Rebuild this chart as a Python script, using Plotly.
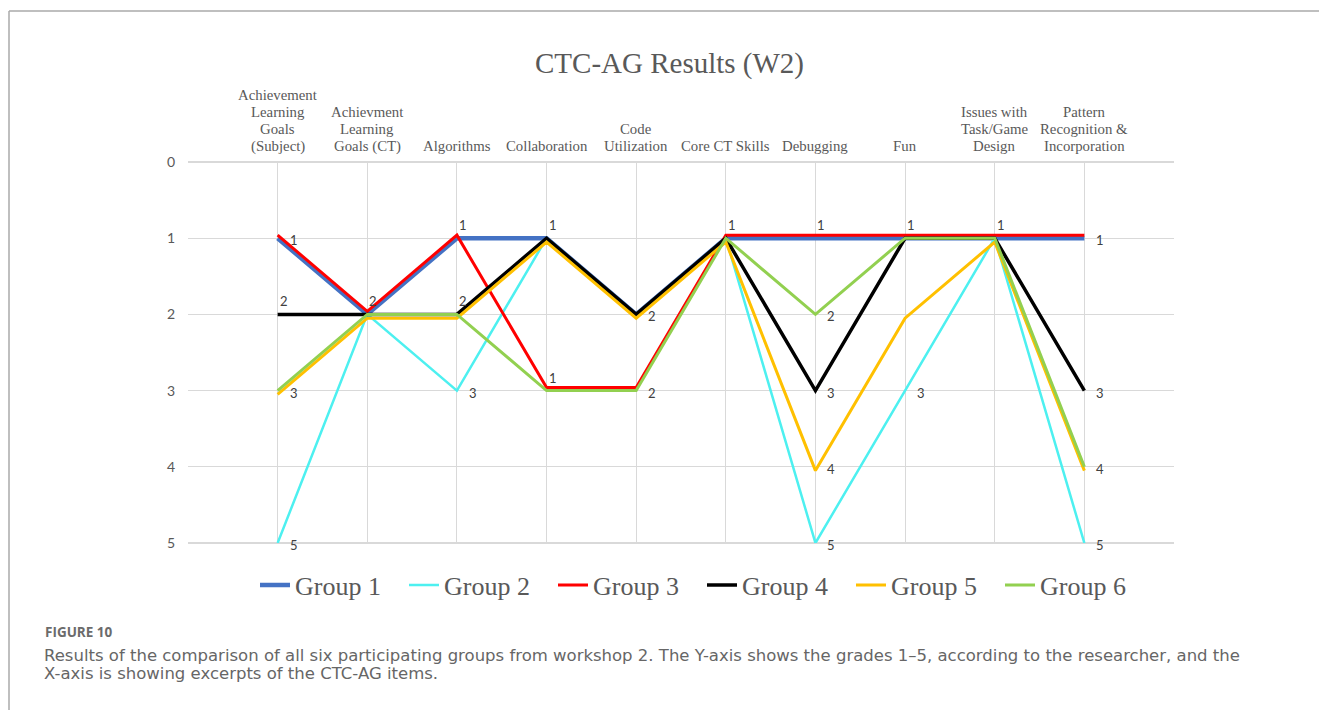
import plotly.graph_objects as go

categories = [
    "Achievement<br>Learning<br>Goals<br>(Subject)",
    "Achievment<br>Learning<br>Goals (CT)",
    "Algorithms",
    "Collaboration",
    "Code<br>Utilization",
    "Core CT Skills",
    "Debugging",
    "Fun",
    "Issues with<br>Task/Game<br>Design",
    "Pattern<br>Recognition &<br>Incorporation",
]

group1 = [1, 2, 1, 1, 2, 1, 1, 1, 1, 1]
group2 = [5, 2, 3, 1, 2, 1, 5, 3, 1, 5]
group3 = [0.96, 1.96, 0.96, 2.96, 2.96, 0.96, 0.96, 0.96, 0.96, 0.96]
group4 = [2, 2, 2, 1, 2, 1, 3, 1, 1, 3]
group5 = [3.05, 2.05, 2.05, 1.05, 2.05, 1.05, 4.05, 2.05, 1.05, 4.05]
group6 = [3, 2, 2, 3, 3, 1, 2, 1, 1, 4]

series_names = ["Group 1", "Group 2", "Group 3", "Group 4", "Group 5", "Group 6"]
series_values = [group1, group2, group3, group4, group5, group6]
series_colors = ["#4472C4", "#4DF0F0", "#FF0000", "#000000", "#FFC000", "#92D050"]
series_widths = [4.5, 2.5, 3, 3.5, 3, 3]

y_ticks = [0, 1, 2, 3, 4, 5]

# data labels (category index, value, label text, placement)
label_cat = [0, 0, 0, 0, 1, 2, 2, 2, 3, 3, 4, 4, 5, 6, 6, 6, 6, 6, 7, 7, 8, 9, 9, 9, 9]
label_val = [1, 2, 3, 5, 2, 1, 2, 3, 1, 3, 2, 3, 1, 1, 2, 3, 4, 5, 1, 3, 1, 1, 3, 4, 5]
label_text = ["1", "2", "3", "5", "2", "1", "2", "3", "1", "1", "2", "2", "1",
              "1", "2", "3", "4", "5", "1", "3", "1", "1", "3", "4", "5"]
label_pos = ["r", "a", "r", "r", "a", "a", "a", "r", "a", "a", "r", "r", "a",
             "a", "r", "r", "r", "r", "a", "r", "a", "r", "r", "r", "r"]

caption_head = "FIGURE 10"
caption_lines = [
    "Results of the comparison of all six participating groups from workshop 2. The Y-axis shows the grades 1\u20135, according to the researcher, and the",
    "X-axis is showing excerpts of the CTC-AG items.",
]
chart_title = "CTC-AG Results (W2)"

x_idx = list(range(len(categories)))

W, H = 1319, 710
pl, pr, pt, pb = 188, 145, 162, 167
pw, ph = W - pl - pr, H - pt - pb


def px_x(x):
    return (x - pl) / pw


def px_y(y):
    return (H - pb - y) / ph


SERIF = "Liberation Serif, Times New Roman, serif"
SANS = "Lato, Liberation Sans, sans-serif"

fig = go.Figure()
for name, vals, col, w in zip(series_names, series_values, series_colors, series_widths):
    fig.add_trace(go.Scatter(
        x=x_idx, y=vals, mode="lines", name=name,
        line=dict(color=col, width=w),
    ))

# data labels
for c, v, t, p in zip(label_cat, label_val, label_text, label_pos):
    if p == "r":
        xs, ys = 16, -2
    else:
        xs, ys = 6, 13
    fig.add_annotation(x=c, y=v, text=t, showarrow=False, xref="x", yref="y",
                       xshift=xs, yshift=ys,
                       font=dict(family=SANS, size=13, color="#404040"))

# category labels (top), bottom-aligned lines with tight spacing
for i, cat in enumerate(categories):
    lines = cat.split("<br>")
    n = len(lines)
    for j, ln in enumerate(lines):
        fig.add_annotation(x=i, y=1, xref="x", yref="paper", text=ln, showarrow=False,
                           xanchor="center", yanchor="middle",
                           yshift=16 + 17 * (n - 1 - j),
                           font=dict(family=SERIF, size=14.8, color="#595959"))

# title
fig.add_annotation(text=chart_title, xref="paper", yref="paper",
                   x=px_x(669), y=px_y(63), showarrow=False, xanchor="center", yanchor="middle",
                   font=dict(family=SERIF, size=29, color="#595959"))

# caption
fig.add_annotation(text="<b>" + caption_head + "</b>", xref="paper", yref="paper",
                   x=px_x(43), y=px_y(632),
                   xanchor="left", yanchor="middle", showarrow=False,
                   font=dict(family="Open Sans, sans-serif", size=13.5, color="#6b6b6b"))
for k, line in enumerate(caption_lines):
    fig.add_annotation(text=line, xref="paper", yref="paper", x=px_x(42), y=px_y(655 + 18 * k),
                       xanchor="left", yanchor="middle", align="left", showarrow=False,
                       font=dict(family="DejaVu Sans, sans-serif", size=16.5, color="#666666"))

# outer frame
fig.add_shape(type="line", xref="paper", yref="paper", x0=px_x(9), x1=px_x(1319), y0=px_y(11), y1=px_y(11),
              line=dict(color="#aaaaaa", width=1.5))
fig.add_shape(type="line", xref="paper", yref="paper", x0=px_x(9), x1=px_x(9), y0=px_y(11), y1=px_y(710),
              line=dict(color="#aaaaaa", width=1.5))
fig.add_shape(type="line", xref="paper", yref="paper", x0=0, x1=1, y0=1, y1=1,
              line=dict(color="#d9d9d9", width=2), layer="below")
fig.add_shape(type="line", xref="paper", yref="paper", x0=0, x1=1, y0=0, y1=0,
              line=dict(color="#d9d9d9", width=2), layer="below")

fig.update_layout(
    width=W, height=H,
    margin=dict(l=pl, r=pr, t=pt, b=pb),
    paper_bgcolor="white", plot_bgcolor="white",
    showlegend=True,
    legend=dict(orientation="h", x=px_x(255), xanchor="left", y=px_y(585), yanchor="middle",
                font=dict(family=SERIF, size=26, color="#595959"),
                itemwidth=30, tracegroupgap=0, entrywidth=104, entrywidthmode="pixels"),
    xaxis=dict(range=[-1, 10], tickmode="array", tickvals=x_idx, showticklabels=False,
               side="top", showgrid=True, gridcolor="#d9d9d9", gridwidth=1,
               zeroline=False, showline=False, ticks=""),
    yaxis=dict(range=[5, 0], tickmode="array", tickvals=y_ticks,
               showgrid=True, gridcolor="#d9d9d9", gridwidth=1, zeroline=False,
               showline=False, ticks="", ticklabelstandoff=12,
               tickfont=dict(family=SANS, size=14, color="#595959")),
)

fig.write_html("out.html", config={"displayModeBar": False},
               post_script="document.body.style.margin='0px';")
